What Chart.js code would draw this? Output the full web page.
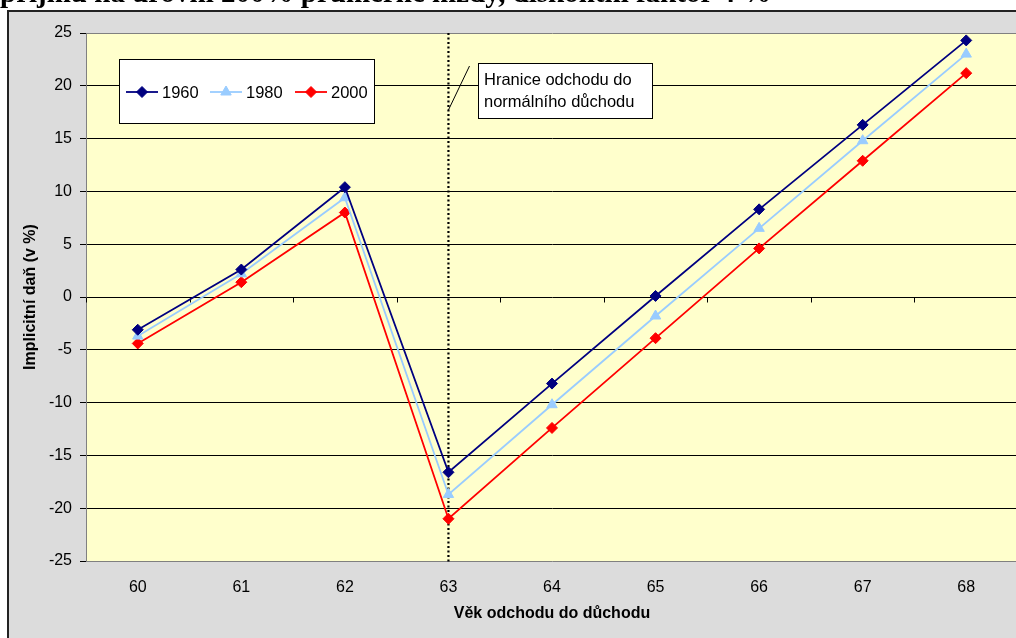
<!DOCTYPE html>
<html>
<head>
<meta charset="utf-8">
<script src="https://cdn.jsdelivr.net/npm/chart.js@4.4.1/dist/chart.umd.min.js"></script>
<style>
  html, body { margin: 0; padding: 0; background: #fff; overflow: hidden; width: 1016px; height: 638px; }
  #wrap { position: absolute; left: 0; top: 0; width: 1030px; height: 638px; }
</style>
</head>
<body>
<div id="wrap"><canvas id="c" width="1030" height="638"></canvas></div>
<script>
// Retirement age (years)
const ages = ['60', '61', '62', '63', '64', '65', '66', '67', '68'];
// Implicit tax (in %) by birth cohort
const cohort1960 = [-3.1, 2.6, 10.4, -16.6, -8.2, 0.1, 8.3, 16.3, 24.3];
const cohort1980 = [-3.7, 2.2, 9.4, -18.7, -10.2, -1.8, 6.5, 14.8, 23.0];
const cohort2000 = [-4.4, 1.4, 8.0, -21.0, -12.4, -3.9, 4.6, 12.9, 21.2];
const seriesLabels = ['1960', '1980', '2000'];
const yTicks = [-25, -20, -15, -10, -5, 0, 5, 10, 15, 20, 25];

const titleText = 'příjmu na úrovni 200% průměrné mzdy, diskontní faktor 4 %';
const xTitle = 'Věk odchodu do důchodu';
const yTitle = 'Implicitní daň (v %)';
const noteLines = ['Hranice odchodu do', 'normálního důchodu'];
const normalAgeIndex = ages.indexOf('63');

const FONT = '"Liberation Sans", Arial, sans-serif';

// Backgrounds, frame and the cut-off heading
const frame = {
  id: 'frame',
  beforeDraw(chart) {
    const { ctx, chartArea: a } = chart;
    ctx.save();
    ctx.fillStyle = '#fff';
    ctx.fillRect(0, 0, chart.width, chart.height);
    ctx.fillStyle = '#000';
    ctx.font = 'bold 29px "Liberation Serif", "Times New Roman", serif';
    ctx.textBaseline = 'alphabetic';
    ctx.textAlign = 'left';
    ctx.fillText(titleText, 0, 2);
    ctx.fillStyle = '#DCDCDC';
    ctx.fillRect(8, 11, chart.width, chart.height);
    ctx.strokeStyle = '#222';
    ctx.lineWidth = 2;
    ctx.beginPath();
    ctx.moveTo(8, chart.height + 2);
    ctx.lineTo(8, 11);
    ctx.lineTo(chart.width + 2, 11);
    ctx.stroke();
    ctx.fillStyle = '#FFFFCC';
    ctx.fillRect(a.left, a.top, a.right - a.left, a.bottom - a.top);
    ctx.restore();
  },
  beforeDatasetsDraw(chart) {
    const { ctx, chartArea: a, scales: { x, y } } = chart;
    ctx.save();
    // category tick marks on the zero line
    const y0 = Math.round(y.getPixelForValue(0)) + 0.5;
    ctx.strokeStyle = '#000';
    ctx.lineWidth = 1;
    ctx.beginPath();
    for (let i = 0; i <= ages.length; i++) {
      const px = Math.round(x.getPixelForValue(i - 0.5)) + 0.5;
      ctx.moveTo(px, y0);
      ctx.lineTo(px, y0 + 5);
    }
    ctx.stroke();
    // dotted marker of the normal retirement age
    const xv = x.getPixelForValue(normalAgeIndex);
    ctx.setLineDash([2, 2.5]);
    ctx.lineWidth = 2.2;
    ctx.beginPath();
    ctx.moveTo(xv, a.top);
    ctx.lineTo(xv, a.bottom + 2);
    ctx.stroke();
    ctx.restore();
  },
  afterDraw(chart) {
    const { ctx, chartArea: a, scales: { x } } = chart;
    ctx.save();
    // axis titles
    ctx.fillStyle = '#000';
    ctx.font = 'bold 16px ' + FONT;
    ctx.textAlign = 'center';
    ctx.textBaseline = 'middle';
    ctx.fillText(xTitle, (a.left + a.right) / 2, 614);
    ctx.save();
    ctx.translate(31, (a.top + a.bottom) / 2);
    ctx.rotate(-Math.PI / 2);
    ctx.fillText(yTitle, 0, 0);
    ctx.restore();

    // legend
    ctx.fillStyle = '#fff';
    ctx.fillRect(119, 59, 255, 64);
    ctx.strokeStyle = '#000';
    ctx.lineWidth = 1;
    ctx.strokeRect(119.5, 59.5, 255, 64);
    const starts = [126, 210, 295];
    chart.data.datasets.forEach((ds, i) => {
      const lx = starts[i], ly = 92;
      ctx.strokeStyle = ds.borderColor;
      ctx.lineWidth = ds.borderWidth;
      ctx.beginPath();
      ctx.moveTo(lx, ly);
      ctx.lineTo(lx + 32, ly);
      ctx.stroke();
      ctx.fillStyle = ds.pointBackgroundColor;
      ctx.strokeStyle = ds.pointBorderColor;
      ctx.lineWidth = 1;
      ctx.beginPath();
      drawMarker(ctx, ds.pointStyle, ds.pointRadius, lx + 16, ly);
      ctx.fill();
      ctx.stroke();
      ctx.fillStyle = '#000';
      ctx.font = '16.5px ' + FONT;
      ctx.textAlign = 'left';
      ctx.textBaseline = 'middle';
      ctx.fillText(ds.label, lx + 36, ly + 1);
    });

    // note box with leader line
    const xv = x.getPixelForValue(normalAgeIndex);
    ctx.strokeStyle = '#000';
    ctx.lineWidth = 1;
    ctx.beginPath();
    ctx.moveTo(469.5, 66);
    ctx.lineTo(xv, 110);
    ctx.stroke();
    ctx.fillStyle = '#fff';
    ctx.fillRect(478, 63, 174, 55);
    ctx.strokeRect(478.5, 63.5, 174, 55);
    ctx.fillStyle = '#000';
    ctx.font = '16.5px ' + FONT;
    ctx.textAlign = 'left';
    ctx.textBaseline = 'middle';
    ctx.fillText(noteLines[0], 484, 80);
    ctx.fillText(noteLines[1], 484, 102);
    ctx.restore();
  }
};

function drawMarker(ctx, style, r, cx, cy) {
  if (style === 'triangle') {
    ctx.moveTo(cx, cy - r);
    ctx.lineTo(cx + r * 0.87, cy + r * 0.5);
    ctx.lineTo(cx - r * 0.87, cy + r * 0.5);
    ctx.closePath();
  } else {
    ctx.moveTo(cx, cy - r);
    ctx.lineTo(cx + r, cy);
    ctx.lineTo(cx, cy + r);
    ctx.lineTo(cx - r, cy);
    ctx.closePath();
  }
}

function series(label, data, color, style, radius) {
  return {
    label, data,
    borderColor: color, backgroundColor: color,
    pointBackgroundColor: color, pointBorderColor: color,
    borderWidth: 1.8, pointStyle: style, pointRadius: radius,
    pointBorderWidth: 1, pointHoverRadius: radius, tension: 0
  };
}

new Chart(document.getElementById('c'), {
  type: 'line',
  data: {
    labels: ages,
    datasets: [
      series(seriesLabels[0], cohort1960, '#000080', 'rectRot', 5.5),
      series(seriesLabels[1], cohort1980, '#99CCFF', 'triangle', 6),
      series(seriesLabels[2], cohort2000, '#FF0000', 'rectRot', 5.5)
    ]
  },
  options: {
    responsive: false,
    devicePixelRatio: 1,
    animation: false,
    layout: { padding: { left: 0, top: 33, right: 12, bottom: 0 } },
    plugins: { legend: { display: false }, title: { display: false }, tooltip: { enabled: false } },
    scales: {
      x: {
        type: 'category',
        offset: true,
        grid: { display: false, drawTicks: false },
        border: { display: false },
        ticks: { color: '#000', font: { family: FONT, size: 16 }, padding: 17, maxRotation: 0, autoSkip: false },
        afterFit(s) { s.height = 77; }
      },
      y: {
        min: -25, max: 25,
        afterBuildTicks(s) { s.ticks = yTicks.map(v => ({ value: v })); },
        grid: {
          color: c => (c.tick && Math.abs(c.tick.value) === 25) ? '#808080' : '#000',
          lineWidth: 1, tickLength: 6, tickColor: '#000'
        },
        border: { display: true, color: '#808080', width: 1 },
        ticks: { color: '#000', font: { family: FONT, size: 16 }, padding: 8 },
        afterFit(s) { s.width = 86; }
      }
    }
  },
  plugins: [frame]
});
</script>
</body>
</html>
